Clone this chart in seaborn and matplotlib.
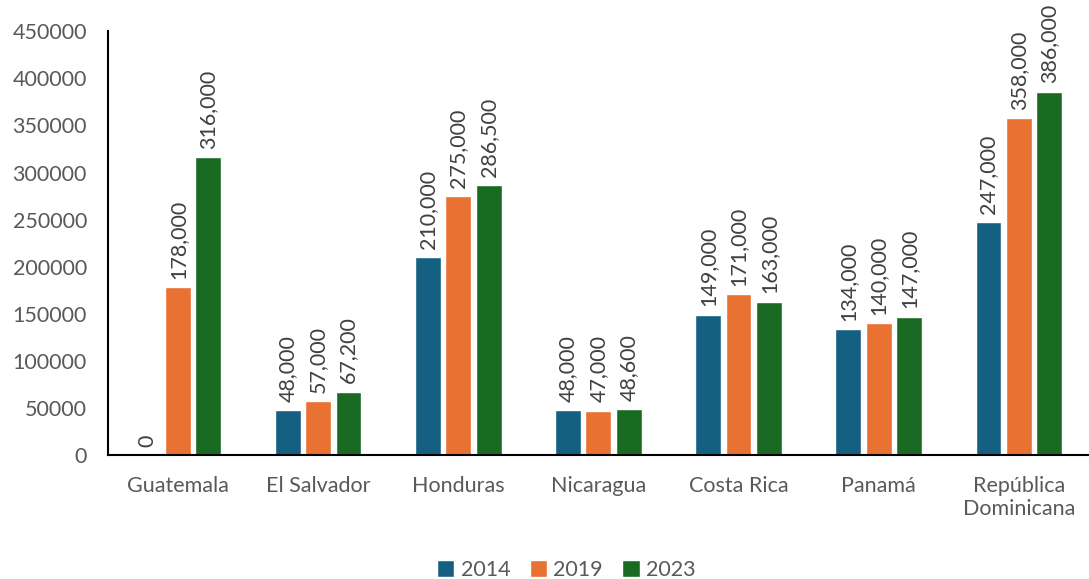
import matplotlib
matplotlib.use("Agg")
import matplotlib.pyplot as plt
import seaborn as sns
import pandas as pd
from matplotlib.ticker import MultipleLocator

countries = ["Guatemala", "El Salvador", "Honduras", "Nicaragua", "Costa Rica", "Panamá", "República\nDominicana"]
years = ["2014", "2019", "2023"]
v2014 = [0, 48000, 210000, 48000, 149000, 134000, 247000]
v2019 = [178000, 57000, 275000, 47000, 171000, 140000, 358000]
v2023 = [316000, 67200, 286500, 48600, 163000, 147000, 386000]
colors = ["#156082", "#E97132", "#196B24"]

rows = []
for y, vals in zip(years, [v2014, v2019, v2023]):
    for c, v in zip(countries, vals):
        rows.append({"country": c, "year": y, "value": v})
df = pd.DataFrame(rows)

sns.set_theme(style="white")
plt.rcParams['font.family'] = ['Lato', 'DejaVu Sans']
text_color = "#595959"

fig = plt.figure(figsize=(10.89, 5.79), dpi=100)
ax = fig.add_axes([0.099, 0.214, 0.901, 0.732])

sns.barplot(data=df, x="country", y="value", hue="year", hue_order=years,
            palette=colors, width=0.65, gap=0.15, ax=ax, legend=True,
            errorbar=None, saturation=1)

for cont in ax.containers:
    ax.bar_label(cont, labels=[f"{v:,.0f}" for v in cont.datavalues],
                 rotation=90, padding=6, fontsize=15.5, color="#404040")

ax.set_ylim(0, 450000)
ax.yaxis.set_major_locator(MultipleLocator(50000))
ax.set_xlim(-0.5, 6.5)
ax.set_xlabel("")
ax.set_ylabel("")
ax.tick_params(axis="both", labelsize=15.5, colors=text_color, length=0)
ax.tick_params(axis="y", pad=15)
ax.tick_params(axis="x", pad=15)
for s in ["top", "right"]:
    ax.spines[s].set_visible(False)
for s in ["left", "bottom"]:
    ax.spines[s].set_color("black")
    ax.spines[s].set_linewidth(1.5)
ax.grid(False)

handles, labels = ax.get_legend_handles_labels()
ax.get_legend().remove()
leg = fig.legend(handles, labels, loc="lower center", bbox_to_anchor=(0.52, -0.035), ncol=3,
                 frameon=False, fontsize=15.5, handlelength=0.8, handleheight=0.8,
                 columnspacing=0.9, handletextpad=0.3)
for t in leg.get_texts():
    t.set_color(text_color)

fig.savefig("out.png", dpi=100)
